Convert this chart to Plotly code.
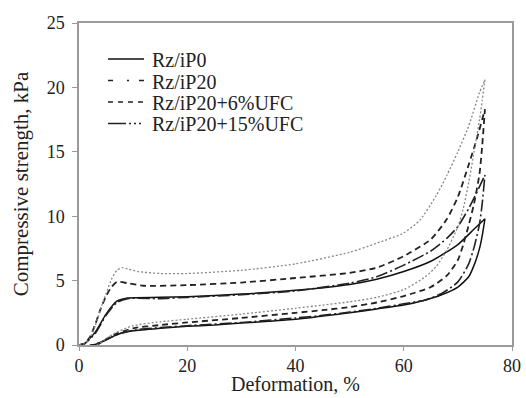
import plotly.graph_objects as go

# ---- data ----
names = ["Rz/iP0", "Rz/iP20", "Rz/iP20+6%UFC", "Rz/iP20+15%UFC"]

# loading branches then unloading branches (deformation %, strength kPa)
p0_load_x = [0, 1, 3, 5, 7, 9, 15, 20, 30, 40, 50, 55, 60, 65, 70, 73, 75]
p0_load_y = [0, 0.1, 1.0, 2.4, 3.4, 3.65, 3.7, 3.75, 3.95, 4.25, 4.7, 5.1, 5.7, 6.5, 7.8, 9.0, 9.8]
p0_unl_x = [75, 74.5, 74, 73, 72, 70, 67, 64, 60, 55, 50, 45, 40, 35, 30, 25, 20, 15, 10, 7, 5, 3, 2]
p0_unl_y = [9.8, 8.5, 7.5, 6.2, 5.3, 4.5, 3.9, 3.5, 3.1, 2.8, 2.5, 2.25, 2.0, 1.85, 1.7, 1.55, 1.45, 1.3, 1.1, 0.8, 0.4, 0.05, 0]

p20_load_x = [0, 1, 3, 5, 7, 9, 15, 20, 30, 40, 50, 55, 60, 65, 68, 70, 72, 74, 75]
p20_load_y = [0, 0.1, 0.9, 2.3, 3.3, 3.6, 3.6, 3.7, 3.9, 4.2, 4.8, 5.3, 6.2, 7.3, 8.3, 9.2, 10.6, 12.3, 13.2]
p20_unl_x = [75, 74.5, 74, 73, 72, 70, 67, 64, 60, 55, 50, 45, 40, 30, 20, 15, 10, 7, 5, 3, 2.5]
p20_unl_y = [13.2, 11.0, 9.4, 7.6, 6.3, 4.9, 4.0, 3.5, 3.2, 2.85, 2.55, 2.3, 2.1, 1.75, 1.5, 1.35, 1.15, 0.8, 0.4, 0.05, 0]

u6_load_x = [0, 1, 2, 3, 4, 5, 6, 7, 9, 12, 20, 30, 40, 50, 55, 60, 65, 68, 70, 72, 73.5, 75]
u6_load_y = [0, 0.1, 0.6, 1.6, 2.8, 3.8, 4.5, 4.9, 4.8, 4.6, 4.65, 4.85, 5.2, 5.6, 6.0, 6.9, 8.2, 9.8, 11.5, 14.0, 16.0, 18.3]
u6_unl_x = [75, 74.5, 74, 73, 72, 71, 70, 68, 65, 60, 55, 50, 45, 40, 30, 20, 15, 10, 7, 5, 3.5, 3]
u6_unl_y = [18.3, 15.5, 13.3, 11.0, 9.3, 7.8, 6.6, 5.4, 4.5, 3.8, 3.3, 2.95, 2.7, 2.5, 2.1, 1.75, 1.55, 1.3, 0.9, 0.45, 0.05, 0]

u15_load_x = [0, 1, 2, 3, 4, 5, 6, 7, 8, 9, 11, 15, 20, 30, 40, 50, 55, 60, 63, 66, 68, 70, 72, 74, 75]
u15_load_y = [0, 0.1, 0.5, 1.5, 2.8, 4.0, 5.1, 5.8, 6.0, 5.9, 5.7, 5.55, 5.55, 5.8, 6.3, 7.2, 7.9, 8.7, 9.7, 11.6, 13.2, 15.0, 17.0, 19.6, 20.6]
u15_unl_x = [75, 74.5, 74, 73, 72, 71, 70, 68, 66, 64, 60, 55, 50, 45, 40, 30, 20, 15, 10, 7, 5, 3.5, 3]
u15_unl_y = [20.6, 19.0, 17.5, 15.0, 12.6, 10.6, 9.2, 7.4, 6.1, 5.3, 4.3, 3.7, 3.35, 3.1, 2.85, 2.4, 2.0, 1.8, 1.5, 1.0, 0.5, 0.05, 0]

x_ticks = [0, 20, 40, 60, 80]
y_ticks = [0, 5, 10, 15, 20, 25]
x_title = "Deformation, %"
y_title = "Compressive strength, kPa"

# ---- styles ----
FONT = "Liberation Serif, Times New Roman, serif"
TXT = "#222222"
series = [
    (p0_load_x + p0_unl_x, p0_load_y + p0_unl_y,
     dict(color="#111111", width=1.5, dash="solid"), dict(color="#111111", width=1.3, dash="solid")),
    (p20_load_x + p20_unl_x, p20_load_y + p20_unl_y,
     dict(color="#222222", width=1.6, dash="12px,3px,2px,3px"), dict(color="#222222", width=1.3, dash="5px,14px,2px,10px,6px")),
    (u6_load_x + u6_unl_x, u6_load_y + u6_unl_y,
     dict(color="#222222", width=1.8, dash="6px,4px"), dict(color="#222222", width=1.3, dash="5px,5px")),
    (u15_load_x + u15_unl_x, u15_load_y + u15_unl_y,
     dict(color="#888888", width=1.3, dash="2px,2px"), dict(color="#222222", width=1.3, dash="18px,3px,2px,3px,2px,3px,2px,10px")),
]

fig = go.Figure()
for name, (xs, ys, line, leg_line) in zip(names, series):
    fig.add_trace(go.Scatter(x=xs, y=ys, mode="lines", name=name,
                             line=dict(shape="spline", smoothing=0.6, **line),
                             showlegend=False, hoverinfo="skip"))

# manual legend (tight row spacing like the reference), in paper coordinates
PL, PR, PT, PB = 79, 512, 23, 345
def px_x(px):
    return (px - PL) / (PR - PL)
def px_y(py):
    return (PB - py) / (PB - PT)

row_y = [59, 80.5, 102, 123.5]
for name, (xs, ys, line, leg_line), ry in zip(names, series, row_y):
    fig.add_shape(type="line", xref="paper", yref="paper",
                  x0=px_x(108), x1=px_x(144), y0=px_y(ry), y1=px_y(ry),
                  line=leg_line)
    fig.add_annotation(xref="paper", yref="paper", x=px_x(150), y=px_y(ry + 1),
                       xanchor="left", yanchor="middle", showarrow=False, text=name,
                       height=20, valign="middle",
                       font=dict(family=FONT, size=20, color=TXT))

# x-axis title as an annotation placed like the reference
fig.add_annotation(xref="paper", yref="paper", x=0.5, y=px_y(398), xanchor="center", yanchor="bottom",
                   height=25, valign="middle",
                   showarrow=False, text=x_title, font=dict(family=FONT, size=20, color=TXT))

axis_common = dict(showline=True, linecolor="#9a9a9a", linewidth=1.5, mirror=True,
                   ticks="outside", tickcolor="#9a9a9a", tickwidth=1,
                   showgrid=False, zeroline=False, automargin=False,
                   tickfont=dict(family=FONT, size=18, color=TXT))

fig.update_layout(
    width=526, height=398,
    margin=dict(l=79, r=14, t=23, b=53, autoexpand=False),
    paper_bgcolor="white", plot_bgcolor="white",
    font=dict(family=FONT, size=20, color=TXT),
    showlegend=False,
    xaxis=dict(range=[0, 80], tickvals=x_ticks, ticklen=4, ticklabelstandoff=0, **axis_common),
    yaxis=dict(range=[0, 25], tickvals=y_ticks, ticklen=5, ticklabelstandoff=4,
               title=dict(text=y_title, standoff=12, font=dict(family=FONT, size=21, color=TXT)),
               **axis_common),
)

fig.write_html("out.html")
